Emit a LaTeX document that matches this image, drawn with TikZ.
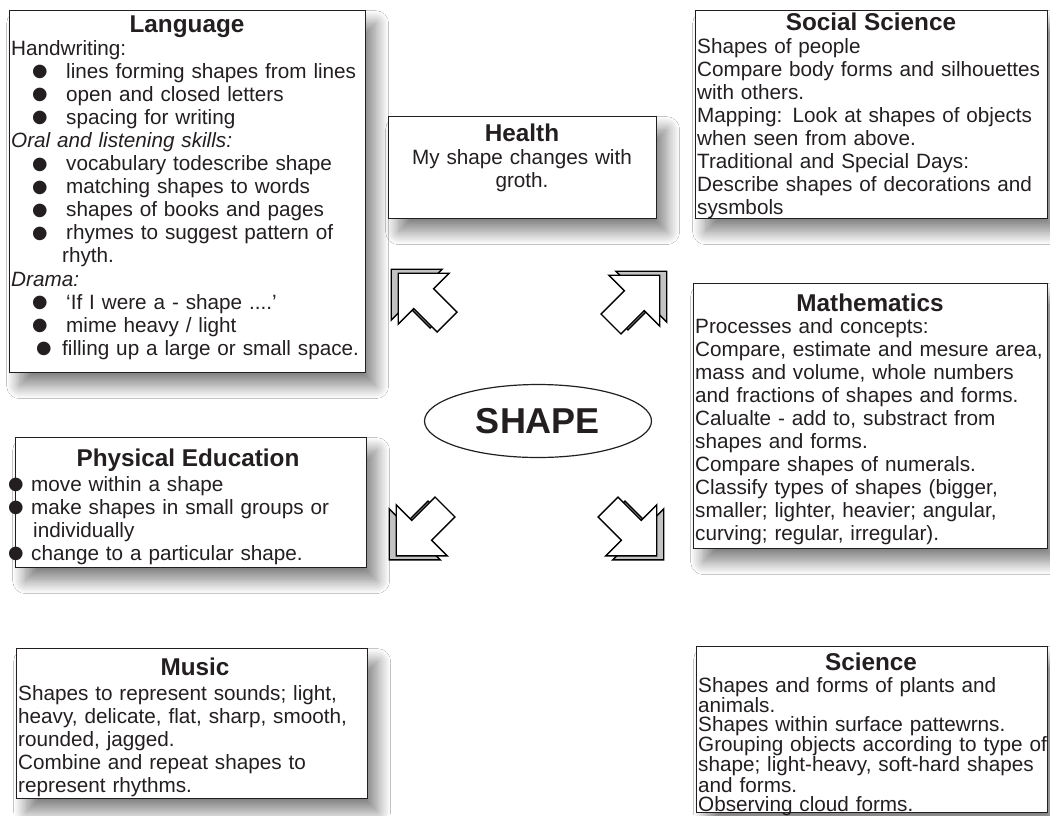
\documentclass[tikz,border=0pt]{standalone}
\usepackage{fontspec}
\setmainfont{Liberation Sans}
\usepackage{xcolor}
\usetikzlibrary{shapes.geometric}
\usetikzlibrary{shadows.blur}
\definecolor{inkgray}{RGB}{35,31,32}
\definecolor{sidegray}{RGB}{195,195,195}
\newcommand{\bul}{\raisebox{-10.5pt}[0pt][0pt]{\fontsize{50}{50}\selectfont\textbullet}}
\newcommand{\bitem}[1]{\hspace*{20pt}\makebox[35pt][l]{\bul}#1}

\tikzset{
  topic/.style={draw=inkgray, line width=1.3pt, fill=white, anchor=north west, inner sep=0pt,
    blur shadow={shadow xshift=10pt, shadow yshift=-13pt, shadow blur radius=13pt,
    shadow blur steps=20, shadow opacity=50}},
  heading/.style={anchor=base, inner sep=0pt, text=inkgray, font=\fontsize{24.3}{28}\selectfont\bfseries},
  body/.style={anchor=base west, align=left, inner sep=0pt, text=inkgray, text width=370pt,
    font=\fontsize{20.7}{23.1}\selectfont},
  arrowface/.style={draw=black, line width=1.4pt},
}

\begin{document}
\begin{tikzpicture}[x=1pt, y=-1pt]
\fill[white] (0,0) rectangle (1050,815);
\useasboundingbox (0,0) rectangle (1050,815);

% Language
\node[topic, minimum width=356, minimum height=362] (lang) at (9,10) {};
\node[heading] (langhead) at (187,32) {Language};
\node[body] (langtext) at (11,55) {Handwriting:\\
  \bitem{lines forming shapes from lines}\\
  \bitem{open and closed letters}\\
  \bitem{spacing for writing}\\
  \textit{Oral and listening skills:}\\
  \bitem{vocabulary todescribe shape}\\
  \bitem{matching shapes to words}\\
  \bitem{shapes of books and pages}\\
  \bitem{rhymes to suggest pattern of}\\
  \hspace*{51pt}rhyth.\\
  \textit{Drama:}\\
  \bitem{`If I were a - shape ....'}\\
  \bitem{mime heavy / light}\\
  \hspace*{24pt}\makebox[27pt][l]{\bul}filling up a large or small space.};

% Health
\node[topic, minimum width=268, minimum height=102] (health) at (388,116) {};
\node[heading] (healthhead) at (522,141) {Health};
\node[body, anchor=base, align=center, text width=262pt] (healthtext) at (522,164) {My shape changes with\\ groth.};

% Social Science
\node[topic, minimum width=352, minimum height=208] (social) at (695,10) {};
\node[heading] (socialhead) at (871,30) {Social Science};
\node[body] (socialtext) at (697,53) {Shapes of people\\
  Compare body forms and silhouettes\\
  with others.\\
  Mapping: Look at shapes of objects\\
  when seen from above.\\
  Traditional and Special Days:\\
  Describe shapes of decorations and\\
  sysmbols};

% Mathematics
\node[topic, minimum width=354, minimum height=265] (maths) at (693,283) {};
\node[heading] (mathshead) at (870,311) {Mathematics};
\node[body] (mathstext) at (695,333) {Processes and concepts:\\
  Compare, estimate and mesure area,\\
  mass and volume, whole numbers\\
  and fractions of shapes and forms.\\
  Calualte - add to, substract from\\
  shapes and forms.\\
  Compare shapes of numerals.\\
  Classify types of shapes (bigger,\\
  smaller; lighter, heavier; angular,\\
  curving; regular, irregular).};

% Physical Education
\node[topic, minimum width=351, minimum height=130] (pe) at (15,437) {};
\node[heading] (pehead) at (188,466) {Physical Education};
\node[body] (petext) at (11,491) {\hspace*{-4pt}\makebox[24pt][l]{\bul}move within a shape\\
  \hspace*{-4pt}\makebox[24pt][l]{\bul}make shapes in small groups or\\
  \hspace*{22pt}individually\\
  \hspace*{-4pt}\makebox[24pt][l]{\bul}change to a particular shape.};

% Music
\node[topic, minimum width=351, minimum height=150] (music) at (16,648) {};
\node[heading] (musichead) at (195,675) {Music};
\node[body] (musictext) at (18,700) {Shapes to represent sounds; light,\\
  heavy, delicate, flat, sharp, smooth,\\
  rounded, jagged.\\
  Combine and repeat shapes to\\
  represent rhythms.};

% Science
\node[topic, minimum width=351, minimum height=166] (science) at (696,646) {};
\node[heading] (sciencehead) at (871,670) {Science};
\node[body, font=\fontsize{20.7}{19}\selectfont] (sciencetext) at (698,692) {Shapes and forms of plants and\\
  animals.\\
  Shapes within surface pattewrns.\\
  Grouping objects according to type of\\
  shape; light-heavy, soft-hard shapes\\
  and forms.\\
  Observing cloud forms.};

% centre
\node[ellipse, draw=inkgray, line width=1.2pt, minimum width=227, minimum height=73, inner sep=0pt,
  text=inkgray, font=\fontsize{36}{40}\selectfont\bfseries] (shape) at (538,421) {SHAPE};

% block arrows
\foreach \tx/\ty/\ang/\dx/\dy in {447/322/135/-7/-4, 611/324/45/7/-4, 445/507/225/-7/4, 608/507/315/7/4}
  \foreach \k/\layer in {1/sidegray, 0/white}
    \draw[arrowface, fill=\layer, shift={(\tx+\k*\dx,\ty+\k*\dy)}, rotate=\ang]
      (0,-14) -- (33,-14) -- (33,-36) -- (69,0) -- (33,36) -- (33,14) -- (0,14) -- cycle;

\end{tikzpicture}
\end{document}
